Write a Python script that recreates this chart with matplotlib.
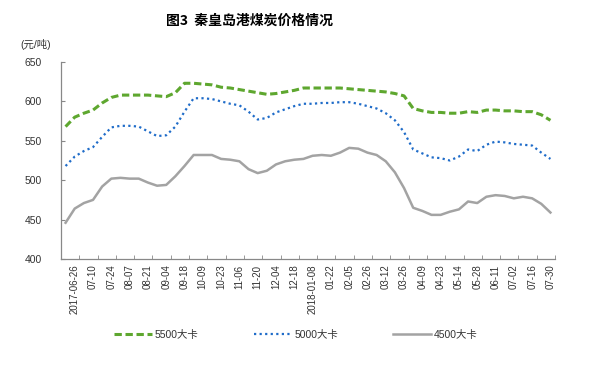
import matplotlib
matplotlib.use("Agg")
import matplotlib.pyplot as plt
import numpy as np

plt.rcParams['font.family'] = ['Liberation Sans', 'Noto Sans CJK SC', 'DejaVu Sans']

# tick labels sit under every second week (odd positions)
tick_labels = ["2017-06-26", "07-10", "07-24", "08-07", "08-21", "09-04", "09-18",
               "10-09", "10-23", "11-06", "11-20", "12-04", "12-18", "2018-01-08",
               "01-22", "02-05", "02-26", "03-12", "03-26", "04-09", "04-23",
               "05-14", "05-28", "06-11", "07-02", "07-16", "07-30"]

price_5500 = [568, 580, 585, 589, 598, 605, 608, 608, 608, 608, 607, 606, 611, 623,
              623, 622, 621, 618, 617, 615, 613, 611, 609, 610, 612, 614, 617, 617,
              617, 617, 617, 616, 615, 614, 613, 612, 610, 607, 591, 588, 586, 586,
              585, 585, 587, 586, 589, 589, 588, 588, 587, 587, 583, 576]
price_5000 = [518, 530, 537, 542, 555, 567, 569, 569, 568, 562, 556, 557, 568, 587,
              604, 604, 603, 600, 597, 595, 587, 577, 579, 586, 590, 594, 597, 597,
              598, 598, 599, 599, 597, 594, 591, 585, 576, 561, 539, 534, 529, 528,
              525, 530, 539, 537, 545, 549, 548, 546, 545, 544, 535, 527]
price_4500 = [446, 464, 471, 475, 492, 502, 503, 502, 502, 497, 493, 494, 505, 518,
              532, 532, 532, 527, 526, 524, 514, 509, 512, 520, 524, 526, 527, 531,
              532, 531, 535, 541, 540, 535, 532, 524, 510, 490, 465, 461, 456, 456,
              460, 463, 473, 471, 479, 481, 480, 477, 479, 477, 470, 459]

x = np.arange(len(price_5500))

fig = plt.figure(figsize=(6.01, 3.66), dpi=100)
ax = fig.add_axes([61/601, 1-259/366, 494/601, 197/366])

ax.plot(x, price_5500, color='#5ea72f', lw=2.2, linestyle=(0, (2.4, 1.2)), label='5500大卡')
ax.plot(x, price_5000, color='#1f6cc9', lw=1.6, linestyle=(0, (1, 1.5)), label='5000大卡')
ax.plot(x, price_4500, color='#a3a3a3', lw=1.8, label='4500大卡')

ax.set_xlim(-0.5, len(x) - 0.5)
ax.set_ylim(400, 650)
ax.set_yticks(np.arange(400, 651, 50))
ax.set_xticks(np.arange(1.5, len(x), 2), minor=True)
ax.set_xticks(np.arange(1, len(x), 2))
ax.set_xticklabels(tick_labels, rotation=90, fontsize=7)
ax.tick_params(axis='x', which='major', length=0, pad=4, colors='#333333')
ax.tick_params(axis='x', which='minor', direction='in', length=3, color='#888888')
ax.tick_params(axis='y', direction='in', length=3, color='#888888', labelsize=7.5,
               labelcolor='#333333', pad=14)
for s in ['top', 'right']:
    ax.spines[s].set_visible(False)
for s in ['left', 'bottom']:
    ax.spines[s].set_color('#888888')
    ax.spines[s].set_linewidth(0.9)

fig.text(250/601, 1-21/366, '图3  秦皇岛港煤炭价格情况', ha='center', va='center',
         fontsize=10, fontweight='bold', family=['Noto Sans CJK SC', 'DejaVu Sans'])
fig.text(20/601, 1-44/366, '(元/吨)', ha='left', va='center', fontsize=7.5,
         color='#333333')

fig.legend(loc='center', bbox_to_anchor=(296/601, 1-335/366), ncol=3, frameon=False,
           fontsize=7.5, handlelength=3.6, handletextpad=0.3, columnspacing=5.3,
           labelcolor='#333333')

fig.savefig('out.png', dpi=100)
